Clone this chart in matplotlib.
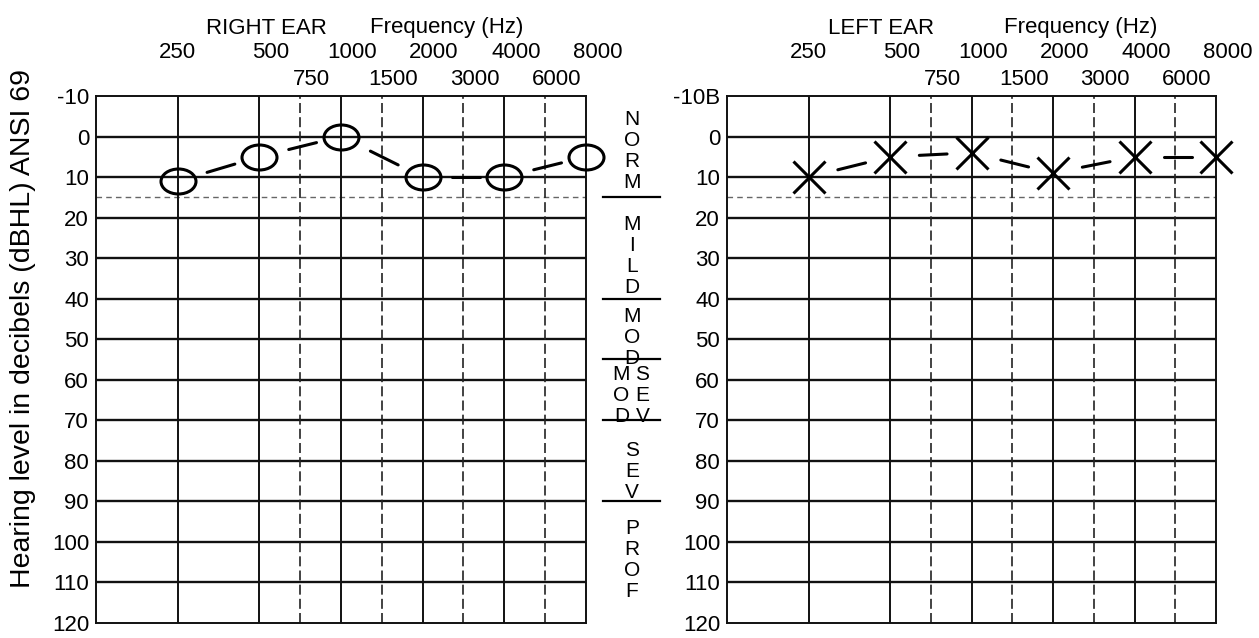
import matplotlib.pyplot as plt
import numpy as np
from matplotlib.lines import Line2D
from matplotlib.markers import MarkerStyle
from matplotlib.transforms import Affine2D, blended_transform_factory

plt.rcParams['font.family'] = ['Liberation Sans', 'DejaVu Sans']

# audiogram grid
octave_freqs = [250, 500, 1000, 2000, 4000, 8000]
mid_freqs = [750, 1500, 3000, 6000]
db_ticks = list(range(-10, 121, 10))
right_ticklabels = [str(d) for d in db_ticks]
left_ticklabels = ['-10B'] + [str(d) for d in db_ticks[1:]]

# thresholds (dB HL)
right_freqs = [250, 500, 1000, 2000, 4000, 8000]
right_db = [11, 5, 0, 10, 10, 5]
left_freqs = [250, 500, 1000, 2000, 4000, 8000]
left_db = [10, 5, 4, 9, 5, 5]

# degree-of-loss scale between the two charts
band_edges = [15, 40, 55, 70, 90]
band_words = ['NORM', 'MILD', 'MOD', 'MOD', 'SEV', 'SEV', 'PROF']
band_start = [-4.2, 21.6, 44.4, 58.7, 58.7, 77.5, 96.6]
band_column = [0, 0, 0, -1, 1, 0, 0]


def xpos(f):
    # half-octave lines sit halfway between the octave lines
    if f in mid_freqs:
        return np.log2(f / 1.5 / 125) + 0.5
    return np.log2(f / 125)


def draw_grid(ax, ticklabels):
    ax.set_xlim(0, 6)
    ax.set_ylim(120, -10)
    for d in db_ticks[1:-1]:
        ax.axhline(d, color='#111111', lw=1.7, zorder=1)
    ax.axhline(15, color='#666666', lw=1.0, ls=(0, (4, 3)), zorder=1)
    for f in octave_freqs[:-1]:
        ax.axvline(xpos(f), color='#111111', lw=1.4, zorder=1)
    for f in mid_freqs:
        ax.axvline(xpos(f), color='#222222', lw=1.2, ls=(0, (6, 2.5)), zorder=1)
    for s in ax.spines.values():
        s.set_linewidth(1.4)
        s.set_color('#111111')
    ax.set_xticks([])
    ax.set_yticks(db_ticks)
    ax.set_yticklabels(ticklabels, fontsize=16)
    ax.tick_params(axis='y', length=0, pad=5)

    # frequency labels above the chart
    tr = blended_transform_factory(ax.transData, ax.transAxes)
    for f in octave_freqs:
        shift = 0.0 if f == 250 else 0.14
        ax.text(xpos(f) + shift, 1.082, str(f), transform=tr, fontsize=16,
                ha='center', va='center')
    for f in mid_freqs:
        ax.text(xpos(f) + 0.14, 1.032, str(f), transform=tr, fontsize=16,
                ha='center', va='center')


def connect(ax, xs, ys):
    # hand drawn dashes between symbols
    for i in range(len(xs) - 1):
        x0, x1 = xs[i], xs[i + 1]
        y0, y1 = ys[i], ys[i + 1]
        a, b = 0.36, 0.70
        ax.plot([x0 + a * (x1 - x0), x0 + b * (x1 - x0)],
                [y0 + a * (y1 - y0), y0 + b * (y1 - y0)],
                color='black', lw=2.2, solid_capstyle='round', zorder=3)


fig = plt.figure(figsize=(12.59, 6.38), dpi=100)
ax_r = fig.add_axes([96 / 1259, 15 / 638, 490 / 1259, 527 / 638])
ax_l = fig.add_axes([727 / 1259, 15 / 638, 489 / 1259, 527 / 638])

draw_grid(ax_r, right_ticklabels)
draw_grid(ax_l, left_ticklabels)

xr = [xpos(f) for f in right_freqs]
xl = [xpos(f) for f in left_freqs]

circle = MarkerStyle('o', fillstyle='none', transform=Affine2D().scale(1.4, 1.0))
ax_r.plot(xr, right_db, ls='none', marker=circle, markersize=18,
          markeredgewidth=2.2, color='black', zorder=4, clip_on=False)
connect(ax_r, xr, right_db)

ax_l.plot(xl, left_db, ls='none', marker='x', markersize=23,
          markeredgewidth=2.2, color='black', zorder=4, clip_on=False)
connect(ax_l, xl, left_db)

# titles
fig.text(206 / 1259, 1 - 28 / 638, 'RIGHT EAR', fontsize=16, ha='left', va='center')
fig.text(370 / 1259, 1 - 28 / 638, 'Frequency (Hz)', fontsize=16, ha='left', va='center')
fig.text(828 / 1259, 1 - 28 / 638, 'LEFT EAR', fontsize=16, ha='left', va='center')
fig.text(1004 / 1259, 1 - 28 / 638, 'Frequency (Hz)', fontsize=16, ha='left', va='center')

fig.text(23 / 1259, 0.485, 'Hearing level in decibels (dBHL) ANSI 69',
         rotation=90, fontsize=20.5, ha='center', va='center')

# degree-of-loss letters and dividers
mid = blended_transform_factory(fig.transFigure, ax_r.transData)
for word, start, col in zip(band_words, band_start, band_column):
    x = 632 / 1259 + col * 10.5 / 1259
    for k, ch in enumerate(word):
        fig.text(x, start + k * 5.2, ch, transform=mid, fontsize=15,
                 ha='center', va='center')
for e in band_edges:
    fig.add_artist(Line2D([603 / 1259, 660 / 1259], [e, e], transform=mid,
                          color='black', lw=1.6))

fig.savefig('out.png', dpi=100)
